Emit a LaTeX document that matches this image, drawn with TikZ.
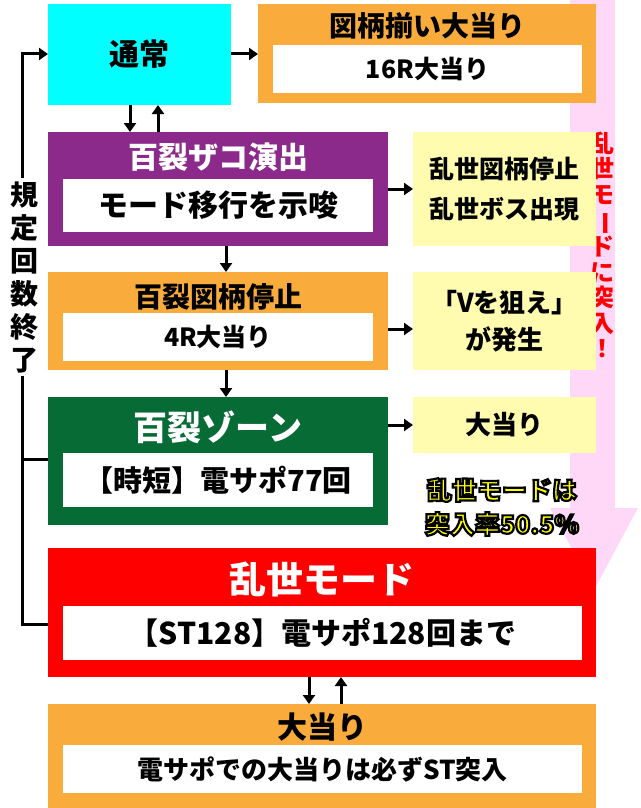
\documentclass[tikz,border=0pt]{standalone}
\usepackage{fontspec}
\setmainfont{Noto Sans CJK JP}[BoldFont={* Black}]
\usetikzlibrary{arrows.meta}
\definecolor{cOrange}{HTML}{F9AC3C}
\definecolor{cPurple}{HTML}{8B2A8B}
\definecolor{cGreen}{HTML}{076B36}
\definecolor{cYellow}{HTML}{FFFCB0}
\definecolor{cPink}{HTML}{FFD8F8}
\definecolor{cCyan}{HTML}{00FFFF}
\newcommand{\fs}[2]{\fontsize{#1}{#2}\selectfont\bfseries}
\newcommand{\outl}[1]{\special{pdf:code q 2 Tr 2.2 w 0 0 0 RG 1 1 0 rg}#1\special{pdf:code Q}}
\tikzset{
 box/.style={inner sep=0pt, outer sep=0pt, anchor=north west},
 wbox/.style={box, fill=white},
 lbl/.style={inner sep=0pt, align=center},
 arr/.style={line width=3pt, -{Triangle[length=9pt,width=12pt]}},
 ln/.style={line width=3pt}
}
\begin{document}
\begin{tikzpicture}[x=1pt,y=-1pt]
\useasboundingbox (0,0) rectangle (640,808);
% pink strip + arrow
\fill[cPink] (570,0) rectangle (615,510);
\fill[cPink] (550,508) -- (638,508) -- (594,590) -- cycle;
% boxes
\node[box, fill=cCyan, minimum width=183pt, minimum height=101pt] (tsujo) at (48,4) {};
\node[lbl, font=\fs{30}{30}] at (tsujo.center) {通常};
\node[box, fill=cOrange, minimum width=338pt, minimum height=99pt] (zugara) at (258,4) {};
\node[wbox, minimum width=309pt, minimum height=48pt] (zugaraw) at (273,45) {};
\node[lbl, font=\fs{28}{28}] at (427,26) {図柄揃い大当り};
\node[lbl, font=\fs{25}{25}] at (zugaraw.center) {16R大当り};
% red vertical text
\node[lbl, text=red, font=\fs{24}{25.5}] (totsu) at (602,245) {乱\\世\\モ\\\rotatebox[origin=c]{-90}{ー}\\ド\\に\\突\\入\\！};
% purple
\node[box, fill=cPurple, minimum width=340pt, minimum height=114pt] (zako) at (48,132) {};
\node[wbox, minimum width=310pt, minimum height=53pt] (zakow) at (63,179) {};
\node[lbl, text=white, font=\fs{30}{30}] at (218,157) {百裂ザコ演出};
\node[lbl, font=\fs{30}{30}] at (zakow.center) {モード移行を示唆};
\node[box, fill=cYellow, minimum width=183pt, minimum height=114pt] (y1) at (413,132) {};
\node[lbl, font=\fs{25}{40}] at (y1.center) {乱世図柄停止\\乱世ボス出現};
% orange
\node[box, fill=cOrange, minimum width=340pt, minimum height=98pt] (hzu) at (48,272) {};
\node[wbox, minimum width=310pt, minimum height=48pt] (hzuw) at (63,313) {};
\node[lbl, font=\fs{28}{28}] at (218,297) {百裂図柄停止};
\node[lbl, font=\fs{25}{25}] at (hzuw.center) {4R大当り};
\node[box, fill=cYellow, minimum width=183pt, minimum height=98pt] (y2) at (413,272) {};
\node[lbl, font=\fs{26}{37}] at (y2.center) {「Vを狙え」\\が発生};
% green
\node[box, fill=cGreen, minimum width=340pt, minimum height=128pt] (zone) at (48,397) {};
\node[wbox, minimum width=310pt, minimum height=54pt] (zonew) at (63,453) {};
\node[lbl, text=white, font=\fs{34}{34}] at (218,427) {百裂ゾーン};
\node[lbl, font=\fs{29}{29}] at (zonew.center) {【時短】電サポ77回};
\node[box, fill=cYellow, minimum width=183pt, minimum height=56pt] (y3) at (413,397) {};
\node[lbl, font=\fs{26}{26}] at (y3.center) {大当り};
\node[lbl, text=yellow, font=\fs{25}{34}] (rate) at (502,507) {\outl{乱世モードは}\\\outl{突入率50.5\%}};
% red
\node[box, fill=red, minimum width=548pt, minimum height=129pt] (ranse) at (48,548) {};
\node[wbox, minimum width=519pt, minimum height=54pt] (ransew) at (63,606) {};
\node[lbl, text=white, font=\fs{37}{37}] at (322,579) {乱世モード};
\node[lbl, font=\fs{30}{30}] at (ransew.center) {【ST128】電サポ128回まで};
% bottom
\node[box, fill=cOrange, minimum width=548pt, minimum height=104pt] (oa) at (48,704) {};
\node[wbox, minimum width=519pt, minimum height=48pt] (oaw) at (63,745) {};
\node[lbl, font=\fs{30}{30}] at (322,727) {大当り};
\node[lbl, font=\fs{26}{26}] at (oaw.center) {電サポでの大当りは必ずST突入};
% arrows
\draw[arr] (tsujo.east |- 0,54) -- (zugara.west |- 0,54);
\draw[arr] ([xshift=-9.5pt]tsujo.south) -- ([xshift=-88pt]zako.north);
\draw[arr] ([xshift=-60pt]zako.north) -- ([xshift=18.5pt]tsujo.south);
\draw[arr] (zako.east |- 0,189) -- (y1.west |- 0,189);
\draw[arr] ([xshift=8pt]zako.south) -- ([xshift=8pt]hzu.north);
\draw[arr] (hzu.east |- 0,329) -- (y2.west |- 0,329);
\draw[arr] ([xshift=8pt]hzu.south) -- ([xshift=8pt]zone.north);
\draw[arr] (zone.east |- 0,425) -- (y3.west |- 0,425);
\draw[arr] ([xshift=-13pt]ranse.south) -- ([xshift=-13pt]oa.north);
\draw[arr] ([xshift=19pt]oa.north) -- ([xshift=19pt]ranse.south);
% loop
\coordinate (c1) at (22,624);
\coordinate (c2) at (22,54);
\draw[ln] (ranse.west |- 0,624) -- (c1) -- (c2);
\draw[arr] ([xshift=-1.5pt]c2) -- (tsujo.west |- 0,54);
\draw[ln] (zone.west |- 0,459) -- (22,459);
\node[lbl, fill=white, inner ysep=3pt, inner xsep=1pt, font=\fs{28}{33}] (kitei) at (24,277) {規\\定\\回\\数\\終\\了};
\end{tikzpicture}
\end{document}
